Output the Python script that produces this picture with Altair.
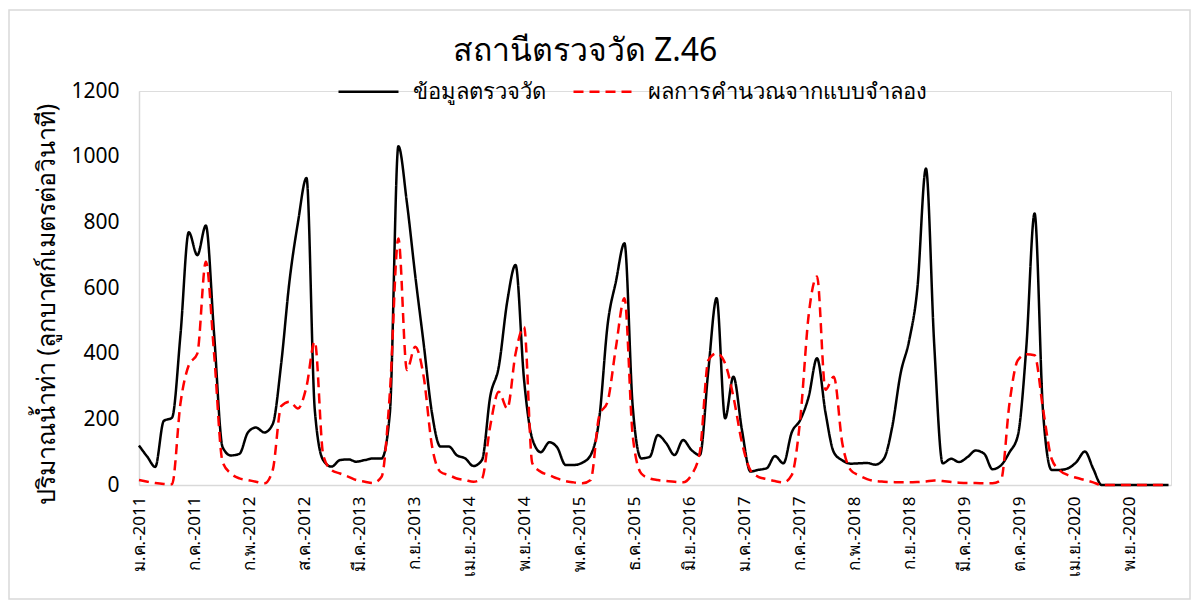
import altair as alt
import pandas as pd
from datetime import datetime, timedelta, timezone

FONT = "Noto Sans"

title_text = "สถานีตรวจวัด Z.46"
series_names = ["ข้อมูลตรวจวัด", "ผลการคำนวณจากแบบจำลอง"]
y_title = "ปริมาณน้ำท่า (ลูกบาศก์เมตรต่อวินาที)"
thai_months = ["ม.ค.", "ก.พ.", "มี.ค.", "เม.ย.", "พ.ค.", "มิ.ย.",
               "ก.ค.", "ส.ค.", "ก.ย.", "ต.ค.", "พ.ย.", "ธ.ค."]
y_ticks = [0, 200, 400, 600, 800, 1000, 1200]

# monthly values, Jan 2011 .. Apr 2021
observed = [
    120, 85, 55, 195, 205, 460, 770, 700, 790, 460, 115, 90,
    95, 160, 175, 160, 185, 370, 620, 800, 935, 230, 75, 56,
    76, 78, 71, 76, 81, 81, 218, 1032, 860, 640, 430, 220,
    117, 117, 91, 81, 58, 76, 270, 360, 560, 670, 320, 140,
    100, 130, 115, 61, 61, 68, 91, 200, 490, 620, 736, 239,
    81, 86, 152, 127, 91, 137, 107, 91, 350, 569, 203, 330,
    168, 41, 46, 51, 88, 66, 160, 198, 270, 386, 220, 100,
    75, 65, 66, 67, 62, 80, 175, 340, 440, 600, 964, 430,
    66, 80, 70, 85, 105, 95, 48, 60, 100, 150, 420, 827,
    220, 46, 46, 51, 70, 102, 50, 0, 0, 0, 0, 0,
    0, 0, 0, 0,
]
simulated = [
    15, 10, 6, 3, 2, 250, 365, 400, 680, 400, 70, 35,
    20, 15, 10, 5, 45, 240, 254, 233, 300, 437, 90, 45,
    35, 25, 15, 10, 6, 25, 280, 751, 350, 421, 330, 120,
    40, 30, 20, 15, 10, 20, 180, 284, 233, 400, 482, 66,
    40, 30, 20, 12, 8, 5, 15, 210, 255, 420, 569, 150,
    35, 20, 15, 12, 10, 8, 30, 100, 380, 401, 370, 269,
    130, 45, 25, 18, 12, 8, 30, 200, 520, 635, 290, 330,
    127, 45, 30, 18, 12, 10, 9, 8, 8, 9, 11, 14,
    12, 9, 7, 6, 6, 5, 5, 15, 250, 380, 398, 395,
    230, 80, 45, 30, 22, 15, 8, 0, 0, 0, 0, 0,
    0, 0, 0, 0,
]
n = len(observed)
dates = pd.date_range("2011-01-01", periods=n, freq="MS").strftime("%Y-%m-%d").tolist()

df = pd.DataFrame({
    "date": dates + dates,
    "value": observed + simulated,
    "series": [series_names[0]] * n + [series_names[1]] * len(simulated),
})

utc = timezone.utc
def ms(d):
    return int(d.timestamp() * 1000)

base_day = datetime(2011, 1, 1, tzinfo=utc)
tick_ms = [ms(base_day + timedelta(days=200 * k)) for k in range(19)]
x_domain = [ms(base_day), ms(datetime(2021, 4, 10, tzinfo=utc))]

month_arr = "[" + ",".join("'" + m + "'" for m in thai_months) + "]"
label_expr = month_arr + "[utcmonth(datum.value)] + '-' + utcyear(datum.value)"

color_scale = alt.Scale(domain=series_names, range=["#000000", "#ff0000"])
dash_scale = alt.Scale(domain=series_names, range=[[1, 0], [10, 6]])

legend = alt.Legend(
    orient="none", legendX=198, legendY=-31, direction="horizontal",
    title=None, symbolType="stroke", symbolSize=3600, symbolStrokeWidth=2.5,
    labelFontSize=22, labelFont=FONT, labelColor="#000000",
    labelLimit=500, labelOffset=13, columnPadding=22,
)

x_enc = alt.X(
    "date:T",
    title=None,
    scale=alt.Scale(type="utc", domain=x_domain),
    axis=alt.Axis(
        values=tick_ms, labelExpr=label_expr, labelAngle=270,
        labelAlign="right", labelBaseline="middle", labelFontSize=17,
        labelPadding=11, labelOverlap=False, ticks=False, grid=False,
        domainColor="#d9d9d9", domainWidth=1.5, labelColor="#000000",
        labelFont=FONT,
    ),
)
y_enc = alt.Y(
    "value:Q",
    title=y_title,
    scale=alt.Scale(domain=[0, 1200], nice=False),
    axis=alt.Axis(
        values=y_ticks, format="d", grid=False, ticks=False, labelFontSize=21,
        labelPadding=20, domainColor="#d9d9d9", domainWidth=1.5,
        labelColor="#000000", labelFont=FONT,
        titleFontSize=25, titleFontWeight="normal", titleFont=FONT,
        titleColor="#000000", titleX=-93, titleY=213, titleAngle=270,
        titleBaseline="middle", titleAlign="center",
    ),
)

def layer(name):
    return alt.Chart(df).transform_filter(
        alt.datum.series == name
    ).mark_line(interpolate="monotone", strokeWidth=2.5).encode(
        x=x_enc,
        y=y_enc,
        color=alt.Color("series:N", scale=color_scale, legend=legend),
        strokeDash=alt.StrokeDash("series:N", scale=dash_scale, legend=legend),
    )

frame = alt.Chart(alt.Data(values=[{"k": 1}])).mark_rect(
    fill="transparent", stroke="#d9d9d9", strokeWidth=1.5
).encode(
    x=alt.value(-130), x2=alt.value(1051), y=alt.value(-81), y2=alt.value(508)
)

chart = alt.layer(frame, layer(series_names[0]), layer(series_names[1])).properties(
    width=1032,
    height=394,
    title=alt.TitleParams(title_text, fontSize=32, fontWeight="normal", font=FONT,
                          color="#000000", anchor="middle", dx=-70, offset=0, dy=59),
    autosize=alt.AutoSizeParams(type="none"),
    padding={"left": 131, "top": 83, "right": 20, "bottom": 120},
    background="white",
).configure_view(stroke=None).configure(font=FONT)

chart.save("out.html", embed_options={"renderer": "svg", "actions": False})
